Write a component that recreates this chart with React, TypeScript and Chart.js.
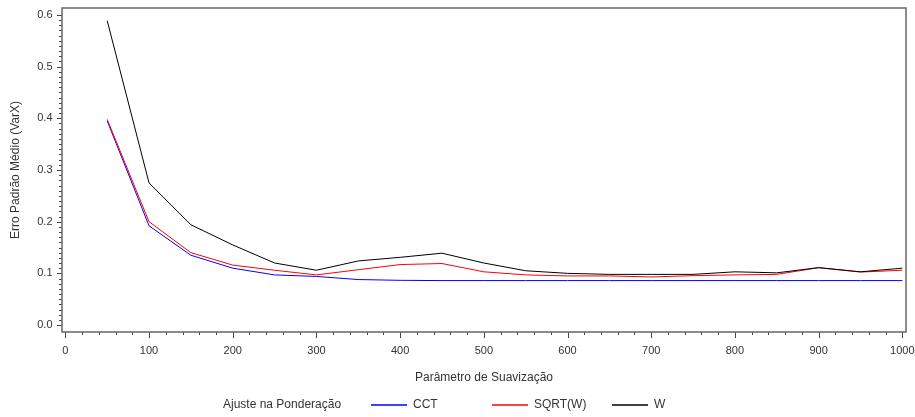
import React, { useEffect, useRef } from "react";
import { Chart, registerables } from "chart.js";

Chart.register(...registerables);

const smoothing = [50, 100, 150, 200, 250, 300, 350, 400, 450, 500, 550, 600, 650, 700, 750, 800, 850, 900, 950, 1000];
const cct = [0.395, 0.192, 0.135, 0.110, 0.097, 0.094, 0.088, 0.0865, 0.086, 0.086, 0.086, 0.086, 0.086, 0.086, 0.086, 0.086, 0.086, 0.086, 0.086, 0.086];
const sqrtW = [0.398, 0.200, 0.140, 0.116, 0.106, 0.097, 0.107, 0.117, 0.119, 0.103, 0.097, 0.095, 0.095, 0.093, 0.0955, 0.097, 0.098, 0.111, 0.1025, 0.106];
const w = [0.589, 0.275, 0.194, 0.155, 0.120, 0.106, 0.124, 0.131, 0.139, 0.120, 0.105, 0.100, 0.098, 0.098, 0.098, 0.103, 0.101, 0.111, 0.103, 0.110];

const seriesNames = ["CCT", "SQRT(W)", "W"];
const seriesColors = ["#0000ff", "#ff0000", "#000000"];
const xTickValues = [0, 100, 200, 300, 400, 500, 600, 700, 800, 900, 1000];
const yTickValues = [0, 0.1, 0.2, 0.3, 0.4, 0.5, 0.6];
const xTitle = "Parâmetro de Suavização";
const yTitle = "Erro Padrão Médio (VarX)";
const legendTitle = "Ajuste na Ponderação";

const FONT = "'Liberation Sans', Arial, sans-serif";
const TEXT = "#333333";

const frameTicksPlugin = {
  id: "frameTicks",
  afterDraw(chart: any) {
    const { ctx, chartArea, scales } = chart;
    const { left, right, top, bottom } = chartArea;
    ctx.save();
    ctx.strokeStyle = "#444444";
    ctx.lineWidth = 1;
    ctx.beginPath();
    for (let v = 0; v <= 1000; v += 20) {
      const px = Math.round(scales.x.getPixelForValue(v)) + 0.5;
      const len = v % 100 === 0 ? 6 : 3;
      ctx.moveTo(px, bottom);
      ctx.lineTo(px, bottom + len);
    }
    for (let i = 0; i <= 60; i++) {
      const py = Math.round(scales.y.getPixelForValue(i / 100)) + 0.5;
      const len = i % 10 === 0 ? 5 : 3;
      ctx.moveTo(left - len, py);
      ctx.lineTo(left, py);
    }
    ctx.stroke();
    ctx.strokeStyle = "#666666";
    ctx.lineWidth = 1.5;
    ctx.strokeRect(left, top, right - left, bottom - top);
    ctx.restore();

    const ly = 405;
    ctx.save();
    ctx.font = `12px ${FONT}`;
    ctx.textBaseline = "middle";
    ctx.textAlign = "left";
    ctx.fillStyle = TEXT;
    ctx.fillText(legendTitle, 223, ly);
    for (let i = 0; i < seriesNames.length; i++) {
      const sx = Math.round(371 + i * 120.5);
      ctx.strokeStyle = seriesColors[i];
      ctx.lineWidth = 1.5;
      ctx.beginPath();
      ctx.moveTo(sx, ly);
      ctx.lineTo(sx + 36, ly);
      ctx.stroke();
      ctx.fillStyle = TEXT;
      ctx.fillText(seriesNames[i], sx + 42, ly);
    }
    ctx.restore();
  },
};

export default function App() {
  const ref = useRef<HTMLCanvasElement>(null);
  useEffect(() => {
    const datasets = [cct, sqrtW, w].map((vals, i) => ({
      label: seriesNames[i],
      data: smoothing.map((x, j) => ({ x, y: vals[j] })),
      borderColor: seriesColors[i],
      backgroundColor: seriesColors[i],
      borderWidth: 1,
      pointRadius: 0,
      tension: 0,
      fill: false,
      order: 3 - i,
    }));
    const chart = new Chart(ref.current as HTMLCanvasElement, {
      type: "line",
      data: { datasets },
      plugins: [frameTicksPlugin],
      options: {
        animation: false,
        responsive: false,
        layout: { padding: { top: 8, right: 9, left: 0, bottom: 0 } },
        plugins: { legend: { display: false }, tooltip: { enabled: false } },
        scales: {
          x: {
            type: "linear",
            min: -4,
            max: 1004.4,
            grid: { display: false, drawTicks: false },
            border: { display: false },
            afterBuildTicks: (axis: any) => {
              axis.ticks = xTickValues.map((v) => ({ value: v }));
            },
            afterFit: (scale: any) => {
              scale.height = 85;
              scale.paddingLeft = 0;
              scale.paddingRight = 0;
            },
            ticks: {
              autoSkip: false,
              maxRotation: 0,
              padding: 12,
              color: TEXT,
              font: { family: FONT, size: 11 },
              callback: (v: any) => String(v),
            },
            title: {
              display: true,
              text: xTitle,
              color: TEXT,
              font: { family: FONT, size: 12 },
              padding: { top: 0, bottom: 32 },
            },
          },
          y: {
            type: "linear",
            min: -0.0135,
            max: 0.6135,
            grid: { display: false, drawTicks: false },
            border: { display: false },
            afterBuildTicks: (axis: any) => {
              axis.ticks = yTickValues.map((v) => ({ value: v }));
            },
            afterFit: (scale: any) => {
              scale.width = 62;
              scale.paddingTop = 0;
              scale.paddingBottom = 0;
            },
            ticks: {
              autoSkip: false,
              padding: 9.5,
              color: TEXT,
              font: { family: FONT, size: 11 },
              callback: (v: any) => Number(v).toFixed(1),
            },
            title: {
              display: true,
              text: yTitle,
              color: TEXT,
              font: { family: FONT, size: 12 },
              padding: { top: 8, bottom: 0 },
            },
          },
        },
      },
    });
    return () => chart.destroy();
  }, []);
  return (
    <div style={{ position: "fixed", left: 0, top: 0, width: 915, height: 417, background: "#fff" }}>
      <canvas ref={ref} width={915} height={417} style={{ display: "block" }} />
    </div>
  );
}
